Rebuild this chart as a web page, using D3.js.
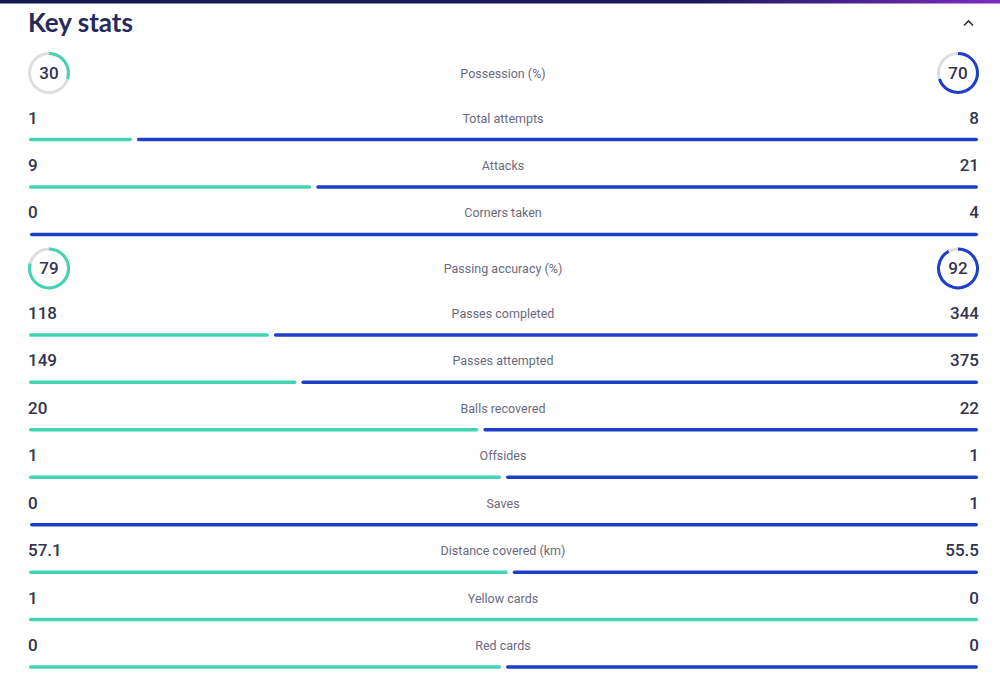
<!DOCTYPE html>
<html>
<head>
<meta charset="utf-8">
<script src="https://cdn.jsdelivr.net/npm/d3@7"></script>
<style>
    body { margin: 0; background: #fff; }
    svg { display: block; }
</style>
</head>
<body>
<svg id="chart" width="1000" height="685"></svg>
<script>
// stat rows, in order; kind tells circle (percentage) or bar
const statLabels = [
    'Possession (%)', 'Total attempts', 'Attacks', 'Corners taken',
    'Passing accuracy (%)', 'Passes completed', 'Passes attempted',
    'Balls recovered', 'Offsides', 'Saves', 'Distance covered (km)',
    'Yellow cards', 'Red cards'
];
const statKinds = [
    'circle', 'bar', 'bar', 'bar',
    'circle', 'bar', 'bar',
    'bar', 'bar', 'bar', 'bar',
    'bar', 'bar'
];
const homeValues = [30, 1, 9, 0, 79, 118, 149, 20, 1, 0, 57.1, 1, 0];
const awayValues = [70, 8, 21, 4, 92, 344, 375, 22, 1, 1, 55.5, 0, 0];
const homeLabels = ['30', '1', '9', '0', '79', '118', '149', '20', '1', '0', '57.1', '1', '0'];
const awayLabels = ['70', '8', '21', '4', '92', '344', '375', '22', '1', '1', '55.5', '0', '0'];

const teal = '#44d3b5';
const blue = '#1e3fc8';
const ringGrey = '#dedee2';
const textDark = '#33334f';
const labelGrey = '#6a6a7e';

const svg = d3.select('#chart');

// thin dark banner strip at the very top
const grad = svg.append('defs').append('linearGradient')
    .attr('id', 'topStrip').attr('x1', '0%').attr('x2', '100%');
grad.append('stop').attr('offset', '0%').attr('stop-color', '#151a52');
grad.append('stop').attr('offset', '70%').attr('stop-color', '#1c1a5e');
grad.append('stop').attr('offset', '100%').attr('stop-color', '#7a2bc0');
svg.append('rect').attr('x', 0).attr('y', 0).attr('width', 1000).attr('height', 3.5)
    .attr('fill', 'url(#topStrip)');

svg.append('text')
    .attr('x', 28).attr('y', 32)
    .attr('font-family', 'Lato, Roboto, sans-serif')
    .attr('font-weight', 700)
    .attr('font-size', 26)
    .attr('fill', '#252a5c')
    .text('Key stats');

// collapse chevron
svg.append('path')
    .attr('d', 'M964,25.5 L968.5,21 L973,25.5')
    .attr('fill', 'none')
    .attr('stroke', '#333')
    .attr('stroke-width', 1.6);

// vertical layout: work out each row's anchor y
const rowY = [];
let y = 73;
statKinds.forEach(function(kind, i) {
    if (i > 0) {
        const prev = statKinds[i - 1];
        if (kind === 'circle') y += 34;
        else if (prev === 'circle') y += 66.5;
        else y += 47.45;
    }
    rowY.push(y);
});

const left = 29, right = 978;
const arc = d3.arc().innerRadius(18).outerRadius(21);

statLabels.forEach(function(label, i) {
    const g = svg.append('g');
    const yy = rowY[i];
    const h = homeValues[i], a = awayValues[i];

    if (statKinds[i] === 'circle') {
        const sides = [
            { cx: 49, v: h, t: homeLabels[i], col: teal },
            { cx: 958, v: a, t: awayLabels[i], col: blue }
        ];
        sides.forEach(function(s) {
            const c = g.append('g').attr('transform', 'translate(' + s.cx + ',' + yy + ')');
            c.append('path')
                .attr('d', arc({ startAngle: 0, endAngle: 2 * Math.PI }))
                .attr('fill', ringGrey);
            c.append('path')
                .attr('d', arc({ startAngle: 0, endAngle: 2 * Math.PI * s.v / 100 }))
                .attr('fill', s.col);
            c.append('text')
                .attr('y', 6)
                .attr('text-anchor', 'middle')
                .attr('font-family', 'Roboto, sans-serif')
                .attr('font-weight', 500)
                .attr('font-size', 17)
                .attr('fill', textDark)
                .text(s.t);
        });
        g.append('text')
            .attr('x', 503).attr('y', yy + 4.5)
            .attr('text-anchor', 'middle')
            .attr('font-family', 'Roboto, sans-serif')
            .attr('font-size', 12.5)
            .attr('fill', labelGrey)
            .text(label);
        return;
    }

    const barY = yy;
    g.append('text')
        .attr('x', 28).attr('y', barY - 16)
        .attr('font-family', 'Roboto, sans-serif')
        .attr('font-weight', 500)
        .attr('font-size', 17)
        .attr('fill', textDark)
        .text(homeLabels[i]);
    g.append('text')
        .attr('x', 979).attr('y', barY - 16)
        .attr('text-anchor', 'end')
        .attr('font-family', 'Roboto, sans-serif')
        .attr('font-weight', 500)
        .attr('font-size', 17)
        .attr('fill', textDark)
        .text(awayLabels[i]);
    g.append('text')
        .attr('x', 503).attr('y', barY - 17)
        .attr('text-anchor', 'middle')
        .attr('font-family', 'Roboto, sans-serif')
        .attr('font-size', 12.5)
        .attr('fill', labelGrey)
        .text(label);

    const total = h + a;
    const x = d3.scaleLinear()
        .domain([0, total === 0 ? 2 : total])
        .range([left, right]);
    const split = total === 0 ? x(1) : x(h);
    const segs = [];
    if (h > 0 || total === 0) segs.push({ x0: left, x1: a > 0 || total === 0 ? split - 2.5 : right, col: teal });
    if (a > 0 || total === 0) segs.push({ x0: h > 0 || total === 0 ? split + 2.5 : left + 1, x1: right, col: blue });
    g.selectAll('rect.seg').data(segs).enter().append('rect')
        .attr('class', 'seg')
        .attr('x', function(d) { return d.x0; })
        .attr('y', barY - 1.75)
        .attr('width', function(d) { return d.x1 - d.x0; })
        .attr('height', 3.5)
        .attr('rx', 1.75)
        .attr('fill', function(d) { return d.col; });
});
</script>
</body>
</html>
